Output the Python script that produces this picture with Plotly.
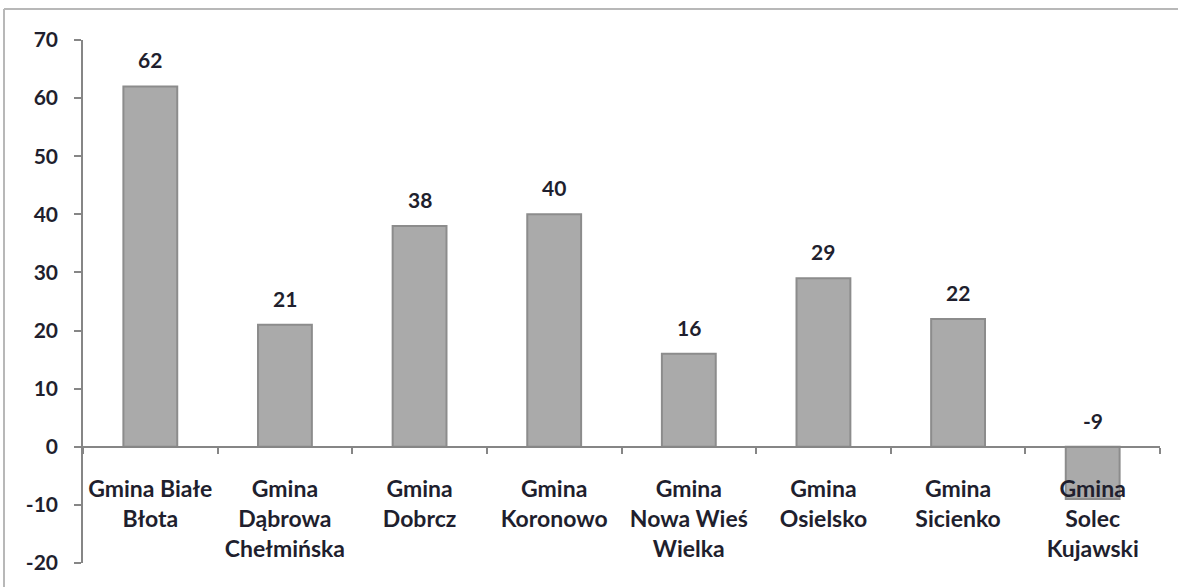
import plotly.graph_objects as go

categories = [
    "Gmina Białe<br>Błota",
    "Gmina<br>Dąbrowa<br>Chełmińska",
    "Gmina<br>Dobrcz",
    "Gmina<br>Koronowo",
    "Gmina<br>Nowa Wieś<br>Wielka",
    "Gmina<br>Osielsko",
    "Gmina<br>Sicienko",
    "Gmina<br>Solec<br>Kujawski",
]
values = [62, 21, 38, 40, 16, 29, 22, -9]
y_ticks = [-20, -10, 0, 10, 20, 30, 40, 50, 60, 70]
y_tick_text = ["-20", "-10", "0", "10", "20", "30", "40", "50", "60", "70"]

FONT = "Lato"
TXT = "#1f1f2e"
AX = "#868686"

y_min, y_max = -20, 70

fig = go.Figure()
fig.add_trace(go.Bar(
    x=categories,
    y=values,
    width=0.4,
    marker=dict(color="#aaaaaa", line=dict(color="#8c8c8c", width=2)),
    hoverinfo="x+y",
))

for c, v in zip(categories, values):
    fig.add_annotation(
        x=c, y=max(v, 0), text=str(v), showarrow=False,
        yanchor="bottom", yshift=12,
        font=dict(family=FONT, size=21, color=TXT, weight="bold"),
    )

W, H = 1178, 587
L, R, T, B = 83, 18, 40, 24
pw, ph = W - L - R, H - T - B
# outer chart frame: only the top and left edges are visible
fig.add_shape(
    type="line", xref="paper", yref="paper",
    x0=(4 - L) / pw, x1=1.5,
    y0=(H - B - 9) / ph, y1=(H - B - 9) / ph,
    line=dict(color="#b8b8b8", width=2), layer="below",
)
fig.add_shape(
    type="line", xref="paper", yref="paper",
    x0=(4 - L) / pw, x1=(4 - L) / pw,
    y0=-0.3, y1=(H - B - 9) / ph,
    line=dict(color="#b8b8b8", width=2), layer="below",
)

fig.update_layout(
    width=W, height=H,
    margin=dict(l=L, r=R, t=T, b=B),
    paper_bgcolor="white", plot_bgcolor="white",
    showlegend=False,
    font=dict(family=FONT, size=21, color=TXT, weight="bold"),
    xaxis=dict(
        anchor="free",
        position=(0 - y_min) / (y_max - y_min),
        showline=True, linecolor=AX, linewidth=1.5,
        ticks="outside", tickson="boundaries", ticklen=6, tickcolor=AX, tickwidth=1.5,
        showgrid=False, zeroline=False,
        tickfont=dict(family=FONT, size=23, color=TXT, weight="bold"),
        ticklabelstandoff=22,
    ),
    yaxis=dict(
        range=[y_min, y_max],
        tickvals=y_ticks,
        ticktext=y_tick_text,
        showline=True, linecolor=AX, linewidth=1.5,
        ticks="outside", ticklen=7, tickcolor=AX, tickwidth=1.5,
        showgrid=False, zeroline=False,
        tickfont=dict(family=FONT, size=21, color=TXT, weight="bold"),
        ticklabelstandoff=12,
    ),
)

fig.write_html(
    "out.html",
    config={"displayModeBar": False},
    post_script="document.body.style.margin='0';document.body.style.overflow='hidden';",
)
